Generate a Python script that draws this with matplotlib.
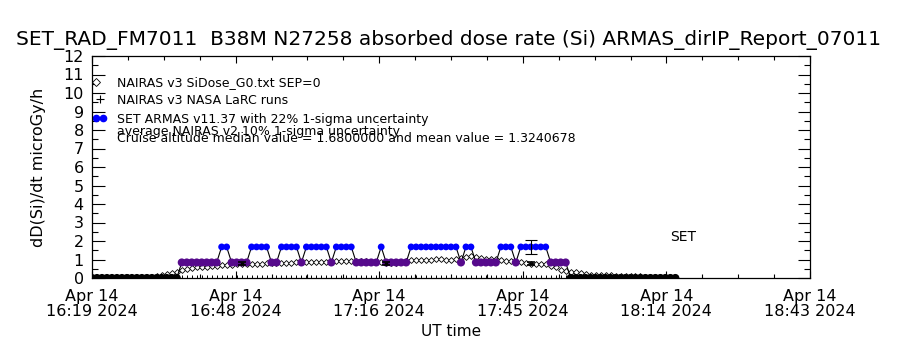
import datetime as dt
import numpy as np
import matplotlib
matplotlib.use("Agg")
import matplotlib.pyplot as plt
import matplotlib.dates as mdates

# ─── Data ───────────────────────────────────────────────────────────────────
START = dt.datetime(2024, 4, 14, 16, 19, 12)
END = dt.datetime(2024, 4, 14, 18, 43, 12)

# SET ARMAS dose rate, one value per minute from START (microGy/h)
ARMAS = [
    0, 0, 0, 0, 0, 0, 0, 0, 0, 0,
    0, 0, 0, 0, 0, 0, 0, 0, 0.84, 0.84,
    0.84, 0.84, 0.84, 0.84, 0.84, 0.84, 1.68, 1.68, 0.84, 0.84,
    0.84, 0.84, 1.68, 1.68, 1.68, 1.68, 0.84, 0.84, 1.68, 1.68,
    1.68, 1.68, 0.84, 1.68, 1.68, 1.68, 1.68, 1.68, 0.84, 1.68,
    1.68, 1.68, 1.68, 0.84, 0.84, 0.84, 0.84, 0.84, 1.68, 0.84,
    0.84, 0.84, 0.84, 0.84, 1.68, 1.68, 1.68, 1.68, 1.68, 1.68,
    1.68, 1.68, 1.68, 1.68, 0.84, 1.68, 1.68, 0.84, 0.84, 0.84,
    0.84, 0.84, 1.68, 1.68, 1.68, 0.84, 1.68, 1.68, 1.68, 1.68,
    1.68, 1.68, 0.84, 0.84, 0.84, 0.84, 0, 0, 0, 0,
    0, 0, 0, 0, 0, 0, 0, 0, 0, 0,
    0, 0, 0, 0, 0, 0, 0, 0,
]

# NAIRAS v3 SiDose_G0, same minutes
NAIRAS = [
    0, 0, 0, 0, 0, 0, 0, 0, 0, 0,
    0.02, 0.05, 0.08, 0.12, 0.16, 0.22, 0.28, 0.35, 0.45, 0.50,
    0.55, 0.57, 0.60, 0.62, 0.65, 0.67, 0.68, 0.70, 0.72, 0.74,
    0.75, 0.76, 0.77, 0.78, 0.78, 0.79, 0.80, 0.80, 0.81, 0.82,
    0.83, 0.84, 0.85, 0.86, 0.86, 0.87, 0.88, 0.88, 0.89, 0.90,
    0.92, 0.93, 0.94, 0.93, 0.92, 0.90, 0.88, 0.86, 0.84, 0.82,
    0.82, 0.83, 0.85, 0.90, 0.96, 1.00, 1.00, 1.00, 1.00, 1.01,
    1.01, 1.00, 1.00, 1.02, 1.08, 1.14, 1.18, 1.12, 1.06, 1.05,
    1.05, 1.04, 0.95, 0.92, 0.90, 0.88, 0.84, 0.80, 0.78, 0.78,
    0.78, 0.76, 0.66, 0.58, 0.45, 0.36, 0.32, 0.30, 0.28, 0.20,
    0.18, 0.17, 0.16, 0.16, 0.15, 0.12, 0.11, 0.10, 0.10, 0.09,
    0.09, 0.08, 0.08, 0.07, 0.07, 0.06, 0.06, 0.05,
]

# NASA LaRC runs: all zero over the flight
LARC = [0.0] * len(ARMAS)

# error bars
ARMAS_ERR_MIN = [88]
ARMAS_ERR_VAL = [1.68]
ARMAS_SIGMA = 0.22
NAIRAS2_MIN = [30, 59, 88]
NAIRAS2_VAL = [0.80, 0.80, 0.77]
NAIRAS2_SIGMA = 0.10

TITLE = "SET_RAD_FM7011  B38M N27258 absorbed dose rate (Si) ARMAS_dirIP_Report_07011"
LEGEND = [
    "NAIRAS v3 SiDose_G0.txt SEP=0",
    "NAIRAS v3 NASA LaRC runs",
    "SET ARMAS v11.37 with 22% 1-sigma uncertainty",
    "average NAIRAS v2 10% 1-sigma uncertainty",
    "Cruise altitude median value = 1.6800000 and mean value = 1.3240678",
]

BLUE = "#0000ff"
PURPLE = "#560a8c"

times = [START + dt.timedelta(minutes=k) for k in range(len(ARMAS))]
armas = np.array(ARMAS)
nairas = np.array(NAIRAS)

# ─── Figure ──────────────────────────────────────────────────────────────────
fig = plt.figure(figsize=(9, 3.5), dpi=100)
ax = fig.add_axes([92 / 900, 72 / 350, 718 / 900, 222 / 350])

# NAIRAS v3 diamonds
ax.plot(times, nairas, linestyle="none", marker="D", markersize=3.0,
        mfc="white", mec="black", mew=0.6, zorder=2)

# LaRC crosses on the axis
ax.plot(times, LARC, linestyle="none", marker="+", markersize=5,
        color="black", mew=0.7, zorder=3)

# ARMAS line + colour-coded dots
ax.plot(times, armas, color="black", linewidth=0.8, zorder=3)
cols = np.where(armas > 1.2, BLUE, np.where(armas > 0, PURPLE, "black"))
sizes = np.where(armas > 1.2, 24, 34)
ax.scatter(times, armas, c=list(cols), s=sizes, marker="o", linewidths=0,
           zorder=4)

# error bars
t_err = [START + dt.timedelta(minutes=m) for m in ARMAS_ERR_MIN]
ax.errorbar(t_err, ARMAS_ERR_VAL, yerr=np.array(ARMAS_ERR_VAL) * ARMAS_SIGMA,
            fmt="none", ecolor="black", elinewidth=0.8, capsize=4, capthick=0.8,
            zorder=5)
t_n2 = [START + dt.timedelta(minutes=m) for m in NAIRAS2_MIN]
ax.errorbar(t_n2, NAIRAS2_VAL, yerr=np.array(NAIRAS2_VAL) * NAIRAS2_SIGMA,
            fmt="none", ecolor="black", elinewidth=2.5, capsize=3, capthick=1.2,
            zorder=5)

# ─── Axes ───────────────────────────────────────────────────────────────────
ax.set_xlim(START, END)
ax.set_ylim(0, 12)
major = [START + dt.timedelta(minutes=28.8 * i) for i in range(6)]
minor = [START + dt.timedelta(minutes=7.2 * i) for i in range(21)]
ax.set_xticks(major)
ax.set_xticks(minor, minor=True)
ax.xaxis.set_major_formatter(mdates.DateFormatter("%b %d\n%H:%M %Y"))
ax.set_yticks(range(0, 13))
ax.set_yticks(np.arange(0, 12.01, 0.5), minor=True)

ax.tick_params(which="both", direction="in", top=True, right=True, width=0.8,
               colors="black")
ax.tick_params(axis="x", which="major", length=5, pad=8, labelsize=11.5)
ax.tick_params(axis="x", which="minor", length=3)
ax.tick_params(axis="y", which="major", length=9, pad=6, labelsize=11.5)
ax.tick_params(axis="y", which="minor", length=4.5)
for lbl in ax.get_xticklabels():
    lbl.set_linespacing(0.95)
for sp in ax.spines.values():
    sp.set_linewidth(0.9)

ax.set_ylabel("dD(Si)/dt microGy/h", fontsize=11.5, labelpad=12)
ax.set_xlabel("UT time", fontsize=11, labelpad=4)

# ─── Legend text ────────────────────────────────────────────────────────────
base_y = [0.866, 0.784, 0.699, 0.644, 0.613]
for txt, yb in zip(LEGEND, base_y):
    ax.text(0.035, yb, txt, transform=ax.transAxes, fontsize=9, va="baseline",
            ha="left")
ax.plot([0.006], [0.884], transform=ax.transAxes, marker="D", markersize=3.6,
        mfc="white", mec="black", mew=0.6, clip_on=False)
ax.plot([0.011], [0.806], transform=ax.transAxes, marker="+", markersize=6,
        color="black", mew=0.8, clip_on=False)
ax.plot([0.006, 0.016], [0.72, 0.72], transform=ax.transAxes, marker="o",
        markersize=4.5, color=BLUE, linewidth=2, clip_on=False)

ax.text(0.823, 0.185, "SET", transform=ax.transAxes, fontsize=10, ha="center",
        va="center")

fig.text(449 / 900, 1 - 45 / 350, TITLE, ha="center", va="baseline",
         fontsize=14.5)

fig.savefig("out.png", dpi=100)
